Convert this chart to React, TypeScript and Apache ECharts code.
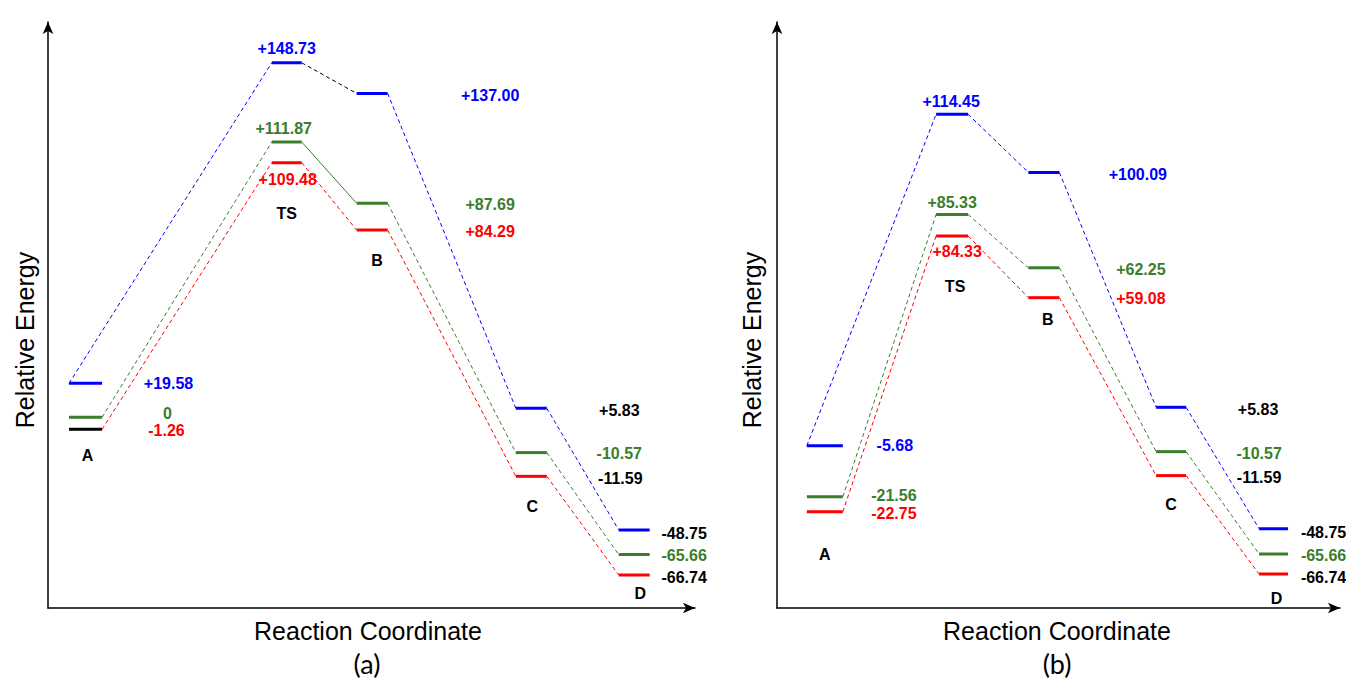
import React, { useEffect, useRef } from 'react';
import * as echarts from 'echarts';

const stages = ['A', 'TS', 'B', 'C', 'D'];

// Reaction-coordinate position of each stage (0–100 along each x-axis)
const stagePosA = [5.8, 36.9, 50.1, 74.7, 90.6];
const stagePosB = [8.5, 31.1, 47.4, 70.0, 88.2];

// Labelled relative energies, panel (a)
const energyA_blue = [19.58, 148.73, 137.0, 5.83, -48.75];
const energyA_green = [0, 111.87, 87.69, -10.57, -65.66];
const energyA_red = [-1.26, 109.48, 84.29, -11.59, -66.74];
// Labelled relative energies, panel (b)
const energyB_blue = [-5.68, 114.45, 100.09, 5.83, -48.75];
const energyB_green = [-21.56, 85.33, 62.25, -10.57, -65.66];
const energyB_red = [-22.75, 84.33, 59.08, -11.59, -66.74];

// Drawn (schematic) level heights
const levelA_blue = [14.7, 149.8, 136.9, 4.2, -47.1];
const levelA_green = [0.4, 116.4, 90.6, -14.5, -57.5];
const levelA_red = [-4.7, 107.7, 79.3, -24.5, -66.1];
const levelB_blue = [-11.6, 128.1, 103.6, 4.6, -46.6];
const levelB_green = [-33.1, 85.9, 63.4, -14.1, -57.2];
const levelB_red = [-39.4, 76.8, 50.8, -24.2, -65.7];

const BLUE = '#0000FF';
const GREEN = '#3A7D2A';
const RED = '#FF0000';
const BLACK = '#000000';
const FONT = '"Liberation Sans", Arial, sans-serif';

function fmt(v: number) {
  return v === 0 ? '0' : (v > 0 ? '+' : '') + v.toFixed(2);
}

type Panel = {
  pos: number[];
  energies: number[][];
  levels: number[][];
  levelColors: string[][];
  connColors: string[][];
  connSolid: boolean[][];
  labelColors: string[][];
  labelOffsets: number[][][];
  nameOffsets: number[][];
  halfWidthPx: number[];
  pxPerUnit: number;
};

const panels: Panel[] = [
  {
    pos: stagePosA,
    energies: [energyA_blue, energyA_green, energyA_red],
    levels: [levelA_blue, levelA_green, levelA_red],
    levelColors: [
      [BLUE, BLUE, BLUE, BLUE, BLUE],
      [GREEN, GREEN, GREEN, GREEN, GREEN],
      [BLACK, RED, RED, RED, RED],
    ],
    connColors: [
      [BLUE, BLACK, BLUE, BLUE],
      [GREEN, GREEN, GREEN, GREEN],
      [RED, RED, RED, RED],
    ],
    connSolid: [
      [false, false, false, false],
      [false, true, false, false],
      [false, false, false, false],
    ],
    labelColors: [
      [BLUE, BLUE, BLUE, BLACK, BLACK],
      [GREEN, GREEN, GREEN, GREEN, GREEN],
      [RED, RED, RED, BLACK, BLACK],
    ],
    labelOffsets: [
      [[83, 0], [0, -14], [118, 2], [88, 2], [50, 4]],
      [[82, -4], [-3, -14], [118, 1], [88, 1], [50, 1]],
      [[81, 1], [1, 17], [118, 1], [89, 2], [50, 2]],
    ],
    nameOffsets: [[2, 26], [0, 51], [5, 30], [1, 30], [6, 18]],
    halfWidthPx: [16.5, 15, 15.5, 15.5, 15.5],
    pxPerUnit: 6.47,
  },
  {
    pos: stagePosB,
    energies: [energyB_blue, energyB_green, energyB_red],
    levels: [levelB_blue, levelB_green, levelB_red],
    levelColors: [
      [BLUE, BLUE, BLUE, BLUE, BLUE],
      [GREEN, GREEN, GREEN, GREEN, GREEN],
      [RED, RED, RED, RED, RED],
    ],
    connColors: [
      [BLUE, BLUE, BLUE, BLUE],
      [GREEN, GREEN, GREEN, GREEN],
      [RED, RED, RED, RED],
    ],
    connSolid: [
      [false, false, false, false],
      [false, false, false, false],
      [false, false, false, false],
    ],
    labelColors: [
      [BLUE, BLUE, BLUE, BLACK, BLACK],
      [GREEN, GREEN, GREEN, GREEN, GREEN],
      [RED, RED, RED, BLACK, BLACK],
    ],
    labelOffsets: [
      [[70, 0], [-1, -13], [94, 2], [87, 2], [50, 4]],
      [[69, -1], [0, -12], [97, 2], [88, 2], [50, 2]],
      [[69, 2], [5, 16], [97, 1], [88, 2], [50, 3]],
    ],
    nameOffsets: [[0, 43], [3, 51], [4, 22], [0, 29], [3, 24]],
    halfWidthPx: [18, 16, 15.5, 15, 14.5],
    pxPerUnit: 5.63,
  },
];

function labelStyle(text: string, color: string, offset: number[]) {
  return {
    show: true,
    position: 'inside',
    offset,
    formatter: text,
    color,
    opacity: 1,
    fontSize: 16,
    lineHeight: 16,
    fontWeight: 'bold',
    fontFamily: FONT,
    textBorderWidth: 0,
  };
}

function buildSeries() {
  const series: any[] = [];
  panels.forEach((p, pi) => {
    const base = { xAxisIndex: pi, yAxisIndex: pi, silent: true, animation: false };
    const hw = p.halfWidthPx.map((h) => h / p.pxPerUnit);
    for (let r = 0; r < 3; r++) {
      const lv = p.levels[r];
      // connectors
      for (let i = 0; i < stages.length - 1; i++) {
        const start = r === 0 && i === 0 ? p.pos[0] - hw[0] : p.pos[i] + hw[i];
        series.push({
          ...base,
          type: 'line',
          symbol: 'none',
          z: 2,
          data: [
            [start, lv[i]],
            [p.pos[i + 1] - hw[i + 1], lv[i + 1]],
          ],
          lineStyle: {
            color: p.connColors[r][i],
            width: 1,
            type: p.connSolid[r][i] ? 'solid' : [4, 3],
          },
        });
      }
      // levels
      stages.forEach((_, i) => {
        series.push({
          ...base,
          type: 'line',
          symbol: 'none',
          z: 3,
          data: [
            [p.pos[i] - hw[i], lv[i]],
            [p.pos[i] + hw[i], lv[i]],
          ],
          lineStyle: { color: p.levelColors[r][i], width: 3, type: 'solid' },
        });
      });
      // value labels
      series.push({
        ...base,
        type: 'scatter',
        symbolSize: 1,
        itemStyle: { color: 'rgba(0,0,0,0)', opacity: 1 },
        z: 4,
        data: stages.map((_, i) => ({
          value: [p.pos[i], lv[i]],
          label: labelStyle(fmt(p.energies[r][i]), p.labelColors[r][i], p.labelOffsets[r][i]),
        })),
      });
    }
    // stage names
    series.push({
      ...base,
      type: 'scatter',
      symbolSize: 1,
      itemStyle: { color: 'rgba(0,0,0,0)', opacity: 1 },
      z: 4,
      data: stages.map((s, i) => ({
        value: [p.pos[i], p.levels[2][i]],
        label: labelStyle(s, BLACK, p.nameOffsets[i]),
      })),
    });
  });
  return series;
}

const axisLineStyle = { color: '#000', width: 1.5 };

function makeAxes() {
  const grids = [
    { left: 48, top: 22, width: 647, height: 586 },
    { left: 777, top: 22, width: 563, height: 586 },
  ];
  const xAxis = grids.map((_, i) => ({
    type: 'value',
    gridIndex: i,
    min: 0,
    max: 100,
    axisLine: { show: true, onZero: false, symbol: ['none', 'arrow'], symbolSize: [8, 12], lineStyle: axisLineStyle },
    axisTick: { show: false },
    axisLabel: { show: false },
    splitLine: { show: false },
  }));
  const yAxis = grids.map((_, i) => ({
    type: 'value',
    gridIndex: i,
    min: -80,
    max: 167,
    axisLine: { show: true, onZero: false, symbol: ['none', 'arrow'], symbolSize: [8, 12], lineStyle: axisLineStyle },
    axisTick: { show: false },
    axisLabel: { show: false },
    splitLine: { show: false },
  }));
  return { grids, xAxis, yAxis };
}

function txt(text: string, x: number, y: number, size: number, family: string, rotation = 0) {
  return {
    type: 'text',
    x,
    y,
    rotation,
    silent: true,
    style: {
      text,
      fill: '#000',
      fontSize: size,
      fontFamily: family,
      align: 'center',
      verticalAlign: 'middle',
      textAlign: 'center',
      textVerticalAlign: 'middle',
    },
  };
}

export default function App() {
  const ref = useRef<HTMLDivElement>(null);
  useEffect(() => {
    if (!ref.current) return;
    const chart = echarts.init(ref.current, undefined, { renderer: 'svg' });
    const { grids, xAxis, yAxis } = makeAxes();
    chart.setOption({
      animation: false,
      backgroundColor: '#ffffff',
      grid: grids,
      xAxis,
      yAxis,
      series: buildSeries(),
      graphic: [
        txt('Relative Energy', 25, 340, 25, FONT, Math.PI / 2),
        txt('Relative Energy', 752, 340, 25, FONT, Math.PI / 2),
        txt('Reaction Coordinate', 368, 631, 25, FONT),
        txt('Reaction Coordinate', 1057, 631, 25, FONT),
        txt('(a)', 367, 663, 27, 'Lato, "Open Sans", sans-serif'),
        txt('(b)', 1057, 663, 27, 'Lato, "Open Sans", sans-serif'),
      ],
    });
    return () => chart.dispose();
  }, []);
  return (
    <div
      ref={ref}
      style={{ position: 'fixed', left: 0, top: 0, width: 1346, height: 683, background: '#fff' }}
    />
  );
}
